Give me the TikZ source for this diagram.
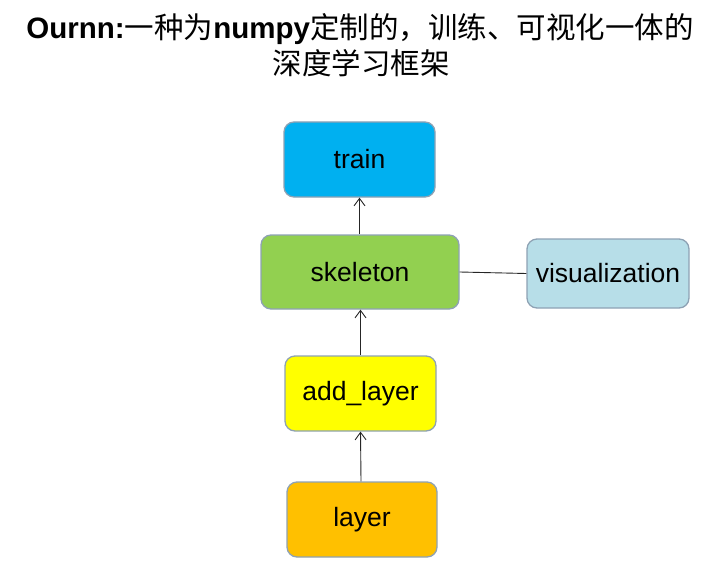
\documentclass[tikz,border=0pt]{standalone}
\usepackage{fontspec}
\setmainfont{Liberation Sans}
\newfontfamily\cjk{Noto Sans CJK SC}
\usetikzlibrary{arrows.meta}
\definecolor{trainc}{HTML}{00B0F0}
\definecolor{skelc}{HTML}{92D050}
\definecolor{addc}{HTML}{FFFF00}
\definecolor{layc}{HTML}{FFC000}
\definecolor{visc}{HTML}{B7DEE8}
\definecolor{edgec}{HTML}{8EA2B4}
\tikzset{
  box/.style={draw=edgec, line width=1.3pt, rounded corners=10pt, inner sep=0pt,
    font=\fontsize{26.5}{30}\selectfont, text=black},
  conn/.style={line width=0.9pt, draw=black!85},
  arr/.style={conn, -{Straight Barb[length=7.5pt,width=11pt]}}
}
\begin{document}
\begin{tikzpicture}[x=1pt,y=-1pt]
\useasboundingbox (0,0) rectangle (719,588);
\node (t1) at (360,29) {\fontsize{29.5}{34}\selectfont\textbf{Ournn:}{\cjk 一种为}\textbf{numpy}{\cjk 定制的，训练、可视化一体的}};
\node (t2) at (361,63) {\fontsize{29.5}{34}\selectfont\cjk 深度学习框架};
\node[box, fill=trainc, minimum width=151pt, minimum height=75pt] (train) at (359.5,159.5) {train\hspace{8pt}};
\node[box, fill=skelc, minimum width=198pt, minimum height=74pt] (skel) at (360,272) {skeleton\hspace{6pt}};
\node[box, fill=visc, minimum width=162pt, minimum height=69pt] (vis) at (608,273.5) {visualization};
\node[box, fill=addc, minimum width=151pt, minimum height=75pt] (add) at (360.5,393.5) {add\_layer};
\node[box, fill=layc, minimum width=150pt, minimum height=75pt] (layer) at (362,519.5) {layer\hspace{6pt}};
\draw[arr] (skel.north -| train) -- (train.south);
\draw[arr] (add.north) -- (add.north |- skel.south);
\draw[arr] (layer.north -| 361,0) -- (add.south);
\draw[conn] (skel.east) -- (vis.west);
\end{tikzpicture}
\end{document}
